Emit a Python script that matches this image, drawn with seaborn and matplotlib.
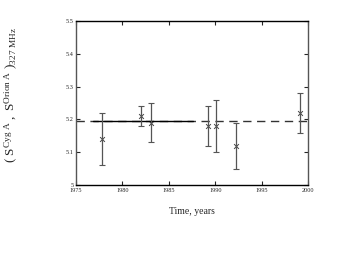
import numpy as np
import pandas as pd
import matplotlib
matplotlib.use("Agg")
import matplotlib.pyplot as plt
import seaborn as sns

# data
years = [1977.8, 1982.0, 1983.1, 1989.2, 1990.1, 1992.2, 1999.1]
ratio = [5.14, 5.21, 5.19, 5.18, 5.18, 5.12, 5.22]
err = [0.08, 0.03, 0.06, 0.06, 0.08, 0.07, 0.06]
mean_level = 5.195
solid_span = [1976.8, 1987.6]
dash_span = [1975, 2000]
xticks = [1975, 1980, 1985, 1990, 1995, 2000]
yticks = [5.0, 5.1, 5.2, 5.3, 5.4, 5.5]
ytick_labels = ["5", "5.1", "5.2", "5.3", "5.4", "5.5"]

df = pd.DataFrame({"year": years, "ratio": ratio, "err": err})

sns.set_style("ticks")
plt.rcParams['font.family'] = ['Liberation Serif', 'DejaVu Serif']
plt.rcParams['mathtext.fontset'] = 'custom'
plt.rcParams['mathtext.rm'] = 'Liberation Serif'
plt.rcParams['mathtext.it'] = 'Liberation Serif'

fig = plt.figure(figsize=(3.49, 2.61), dpi=100)
ax = fig.add_axes([0.218, 0.291, 0.665, 0.629])

ax.plot(dash_span, [mean_level, mean_level], color="#333333", lw=1.0, ls=(0, (6, 4)))
ax.plot(solid_span, [mean_level, mean_level], color="black", lw=1.0)

ax.errorbar(df["year"], df["ratio"], yerr=df["err"], fmt="none",
            ecolor="#555555", elinewidth=0.9, capsize=2.5, capthick=0.8)
sns.scatterplot(data=df, x="year", y="ratio", marker="x", color="#444444",
                s=12, linewidth=0.7, ax=ax, legend=False)

ax.set_xlim(1975, 2000)
ax.set_ylim(5.0, 5.5)
ax.set_xticks(xticks)
ax.set_xticklabels([str(x) for x in xticks])
ax.set_yticks(yticks)
ax.set_yticklabels(ytick_labels)
ax.tick_params(direction="in", length=3, width=0.8, labelsize=4.5,
               top=True, right=True, pad=2)

for side in ["top", "bottom"]:
    ax.spines[side].set_linewidth(1.0)
    ax.spines[side].set_color("black")
for side in ["left", "right"]:
    ax.spines[side].set_linewidth(1.0)
    ax.spines[side].set_color("#555555")

ax.set_xlabel("Time, years", fontsize=7, labelpad=10)
ax.set_ylabel(r"$(\ \mathrm{S}^{\mathrm{Cyg\ A}}\ ,\ \mathrm{S}^{\mathrm{Orion\ A}}\ )_{\mathrm{327\ MHz}}$",
              fontsize=9.5)
ax.yaxis.set_label_coords(-0.24, 0.55)

fig.savefig("out.png", dpi=100)
